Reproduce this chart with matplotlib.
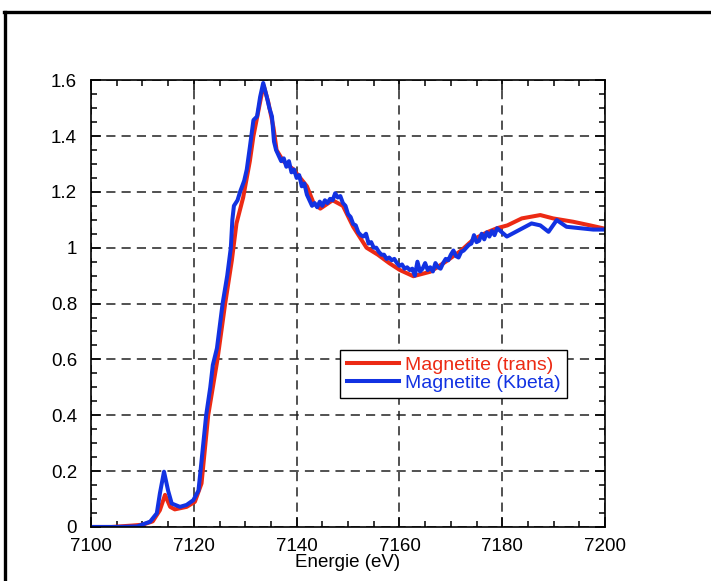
import matplotlib
matplotlib.use('Agg')
import matplotlib.pyplot as plt
from matplotlib.lines import Line2D
from matplotlib.ticker import MultipleLocator, FuncFormatter

plt.rcParams['font.family'] = ['Liberation Sans', 'DejaVu Sans']

# Magnetite, transmission
e_trans = [7100, 7104, 7108, 7110, 7112, 7113.4, 7114.4, 7115.4, 7116.3, 7118.6,
           7120.2, 7121.5, 7122.8, 7124.6, 7126.1, 7127.4, 7128.3, 7129.6, 7130.9,
           7131.6, 7133.2, 7133.6, 7134.5, 7135.5, 7136.1, 7137.4, 7139.4, 7142,
           7143.3, 7144.6, 7147, 7149, 7151, 7153.6, 7155.8, 7158, 7160.1, 7162.7,
           7166, 7169, 7172, 7174.4, 7177, 7179, 7181, 7183.8, 7187.4, 7189.9,
           7193.8, 7197.1, 7200]
mu_trans = [0.0, 0.0, 0.005, 0.008, 0.02, 0.06, 0.115, 0.072, 0.063, 0.072,
            0.09, 0.156, 0.40, 0.60, 0.80, 0.955, 1.087, 1.18, 1.31,
            1.40, 1.55, 1.58, 1.52, 1.43, 1.35, 1.31, 1.28, 1.22,
            1.16, 1.14, 1.17, 1.15, 1.075, 1.0, 0.975, 0.945, 0.92, 0.898,
            0.914, 0.95, 0.99, 1.03, 1.055, 1.07, 1.08, 1.105, 1.117, 1.105,
            1.093, 1.08, 1.068]

# Magnetite, K beta detection
e_kb = [7100, 7105, 7109, 7111.5, 7112.8, 7113.4, 7114.2, 7115, 7115.7, 7117.3,
        7118.6, 7119.9, 7120.9, 7121.3, 7122.4, 7123.2, 7123.7, 7124.5, 7125.6,
        7126.5, 7127.2, 7127.5, 7127.8, 7128.5, 7129, 7129.8, 7130.3, 7130.9,
        7131.6, 7132.3, 7132.9, 7133.5, 7134.2, 7134.7, 7135.2, 7135.6,
        7136.0, 7136.5, 7137.0, 7137.5, 7138.0, 7138.5, 7139.0, 7139.5, 7140.0,
        7140.5, 7141.0, 7141.5, 7142.0, 7142.5, 7143.0, 7143.5, 7144.0, 7144.5,
        7145.0, 7145.5, 7146.0, 7146.5, 7147.0, 7147.5, 7148.0, 7148.5, 7149.0,
        7149.5, 7150.0, 7150.5, 7151.0, 7151.5, 7152.0, 7152.5, 7153.0, 7153.5,
        7154.0, 7154.5, 7155.0, 7155.5, 7156.0, 7156.5, 7157.0, 7157.5, 7158.0,
        7158.5, 7159.0, 7159.5, 7160.0, 7160.5, 7161.0, 7161.5, 7162.0, 7162.5,
        7163.0, 7163.5, 7164.0, 7164.5, 7165.0, 7165.5, 7166.0, 7166.5, 7167.0,
        7167.5, 7168.0, 7168.5, 7169.0, 7169.5, 7170.0, 7170.5, 7171.0, 7171.5,
        7172.0, 7172.5, 7173.0, 7173.5, 7174.0, 7174.5, 7175.0, 7175.5, 7176.0,
        7176.5, 7177.0, 7177.5, 7178.0, 7178.5, 7179.0,
        7180.9, 7185.7, 7187.4, 7189, 7190.6, 7192.5, 7197.7, 7200]
mu_kb = [0.0, 0.0, 0.002, 0.019, 0.049, 0.12, 0.198, 0.13, 0.084, 0.072,
         0.079, 0.096, 0.13, 0.2, 0.4, 0.5, 0.58, 0.64, 0.8,
         0.9, 1.0, 1.1, 1.15, 1.17, 1.2, 1.24, 1.28, 1.36,
         1.457, 1.47, 1.54, 1.59, 1.54, 1.50, 1.47, 1.38,
         1.35, 1.33, 1.31, 1.32, 1.29, 1.31, 1.27, 1.28, 1.25,
         1.26, 1.22, 1.23, 1.19, 1.17, 1.15, 1.16, 1.145, 1.165,
         1.15, 1.17, 1.16, 1.175, 1.17, 1.195, 1.18, 1.185, 1.16,
         1.15, 1.12, 1.11, 1.085, 1.08, 1.055, 1.045, 1.04, 1.05,
         1.015, 1.02, 1.0, 1.0, 0.985, 0.975, 0.975, 0.96, 0.965,
         0.955, 0.96, 0.945, 0.935, 0.94, 0.925, 0.93, 0.92, 0.925,
         0.90, 0.95, 0.915, 0.925, 0.945, 0.92, 0.93, 0.915, 0.945,
         0.93, 0.925, 0.945, 0.96, 0.955, 0.975, 0.99, 0.97, 0.965,
         0.985, 0.99, 1.0, 1.01, 1.015, 1.045, 1.02, 1.025, 1.05,
         1.03, 1.055, 1.04, 1.06, 1.045, 1.07,
         1.04, 1.087, 1.08, 1.057, 1.099, 1.075, 1.065, 1.065]

red = '#ec2a14'
blue = '#1232e2'
fs = 13.5

fig = plt.figure(figsize=(7.11, 5.81), dpi=100)
ax = fig.add_axes([0.128, 0.093, 0.723, 0.769])

ax.plot(e_trans, mu_trans, color=red, lw=2.9, label='Magnetite (trans)')
ax.plot(e_kb, mu_kb, color=blue, lw=2.9, label='Magnetite (Kbeta)')

ax.set_xlim(7100, 7200)
ax.set_ylim(0, 1.6)
ax.xaxis.set_major_locator(MultipleLocator(20))
ax.xaxis.set_minor_locator(MultipleLocator(5))
ax.yaxis.set_major_locator(MultipleLocator(0.2))
ax.yaxis.set_minor_locator(MultipleLocator(0.05))
ax.yaxis.set_major_formatter(FuncFormatter(lambda v, p: '%g' % round(v, 2)))

ax.tick_params(which='both', direction='in', top=True, right=True, width=1.1,
               labelsize=fs, color='black')
ax.tick_params(which='major', length=7)
ax.tick_params(which='minor', length=4)
ax.tick_params(axis='x', pad=8)
ax.tick_params(axis='y', pad=10)
for s in ax.spines.values():
    s.set_linewidth(1.2)

ax.grid(True, which='major', color='#222222', lw=1.1, dashes=(6, 4))
ax.set_xlabel('Energie (eV)', fontsize=fs, labelpad=-1)

leg = ax.legend(loc='upper left', bbox_to_anchor=(0.484, 0.397), fontsize=14,
                handlelength=2.7, handletextpad=0.3, borderpad=0.35,
                labelspacing=0.0, fancybox=False, framealpha=1,
                edgecolor='black', borderaxespad=0)
leg.get_frame().set_linewidth(1.0)
for txt, c in zip(leg.get_texts(), [red, blue]):
    txt.set_color(c)

# page border lines
fig.add_artist(Line2D([0.005, 1.0], [0.9785, 0.9785], color='black', lw=2.4))
fig.add_artist(Line2D([0.0075, 0.0075], [0.0, 0.98], color='black', lw=2.4))

fig.savefig('out.png', dpi=100)
